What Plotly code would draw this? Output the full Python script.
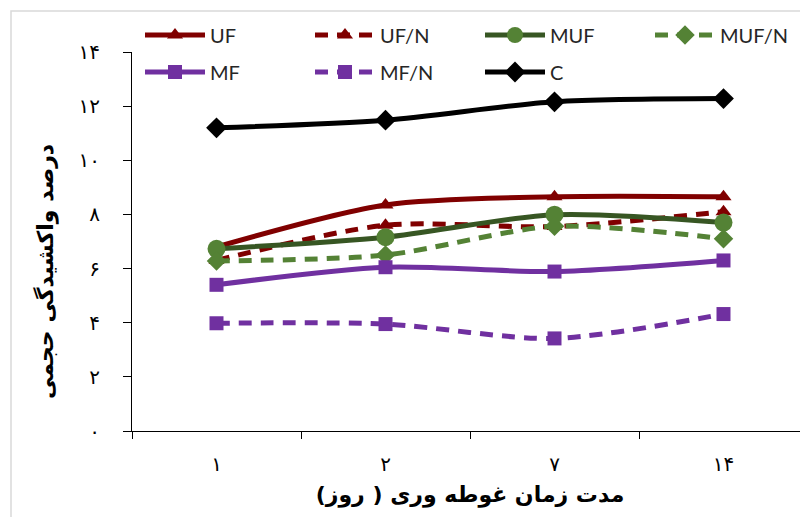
import plotly.graph_objects as go

categories = ["۱", "۲", "۷", "۱۴"]
y_tick_vals = [0, 2, 4, 6, 8, 10, 12, 14]
y_tick_text = ["۰", "۲", "۴", "۶", "۸", "۱۰", "۱۲", "۱۴"]

UF = [6.8, 8.35, 8.65, 8.65]
UF_N = [6.3, 7.6, 7.55, 8.1]
MUF = [6.73, 7.16, 7.99, 7.7]
MUF_N = [6.28, 6.5, 7.56, 7.1]
MF = [5.4, 6.05, 5.89, 6.3]
MF_N = [3.98, 3.95, 3.42, 4.32]
C = [11.2, 11.48, 12.16, 12.28]

DARK_RED = "#800000"
DARK_GREEN = "#375623"
GREEN = "#548235"
PURPLE = "#7030A0"
BLACK = "#000000"

series = [
    ("UF", UF, DARK_RED, DARK_RED, "solid", "triangle-up", 14, "legend"),
    ("UF/N", UF_N, DARK_RED, DARK_RED, "13px,9px", "triangle-up", 14, "legend"),
    ("MUF", MUF, DARK_GREEN, GREEN, "solid", "circle", 18, "legend"),
    ("MUF/N", MUF_N, GREEN, GREEN, "13px,9px", "diamond", 15, "legend"),
    ("MF", MF, PURPLE, PURPLE, "solid", "square", 14, "legend2"),
    ("MF/N", MF_N, PURPLE, PURPLE, "13px,9px", "square", 14, "legend2"),
    ("C", C, BLACK, BLACK, "solid", "diamond", 16, "legend2"),
]

fig = go.Figure()
for name, vals, lc, mc, dash, sym, size, leg in series:
    fig.add_trace(go.Scatter(
        x=categories, y=vals, name=name, mode="lines+markers",
        line=dict(color=lc, width=5, dash=dash, shape="spline", smoothing=0.8),
        marker=dict(color=mc, symbol=sym, size=size),
        legend=leg,
    ))

# The page body has an 8px default margin; lay the figure out in page pixels
OFF = 8
W, H = 808 - OFF, 517 - OFF
L, R, T, B = 132 - OFF, 0, 52 - OFF, 86
pw, ph = W - L - R, H - T - B

def px_x(x):  # page pixel -> paper
    return (x - OFF - L) / pw

def px_y(y):
    return (H - B - (y - OFF)) / ph

legend_common = dict(
    orientation="h", xanchor="left", yanchor="middle",
    entrywidth=95, entrywidthmode="pixels", itemwidth=60,
    font=dict(family="Lato, Open Sans, sans-serif", size=20, color="#262626"),
    bgcolor="rgba(0,0,0,0)", borderwidth=0, tracegroupgap=0,
)

fig.update_layout(
    width=W, height=H,
    margin=dict(l=L, r=R, t=T, b=B, autoexpand=False),
    paper_bgcolor="white", plot_bgcolor="white",
    showlegend=True,
    legend=dict(x=px_x(140), y=px_y(35), **legend_common),
    legend2=dict(x=px_x(140), y=px_y(72), **legend_common),
    xaxis=dict(
        type="category", range=[-0.5, 3.5],
        showline=True, linecolor="black", linewidth=1.2,
        ticks="outside", ticklen=7, tickcolor="black", tickwidth=1.2,
        tickson="boundaries", showgrid=False, zeroline=False,
        tickfont=dict(family="DejaVu Sans", size=20, color="black"),
        ticklabelstandoff=15,
        title=dict(text="<b>مدت زمان غوطه وری ( روز)</b>",
                   font=dict(family="DejaVu Sans", size=22, color="black"),
                   standoff=11),
    ),
    yaxis=dict(
        range=[0, 14], tickvals=y_tick_vals, ticktext=y_tick_text,
        showline=True, linecolor="black", linewidth=1.2,
        ticks="outside", ticklen=8, tickcolor="black", tickwidth=1.2,
        showgrid=False, zeroline=False,
        tickfont=dict(family="DejaVu Sans", size=20, color="black"),
        ticklabelstandoff=19,
    ),
    annotations=[dict(
        text="<b>درصد واکشیدگی حجمی</b>", textangle=-90,
        x=px_x(45), y=px_y(272), xref="paper", yref="paper",
        xanchor="center", yanchor="middle", showarrow=False,
        font=dict(family="DejaVu Sans", size=22, color="black"),
    )],
    shapes=[dict(
        type="rect", xref="paper", yref="paper",
        x0=px_x(11), x1=px_x(840), y0=px_y(540), y1=px_y(11),
        line=dict(color="#d9d9d9", width=1.5), layer="below",
    )],
)

fig.write_html("out.html")
